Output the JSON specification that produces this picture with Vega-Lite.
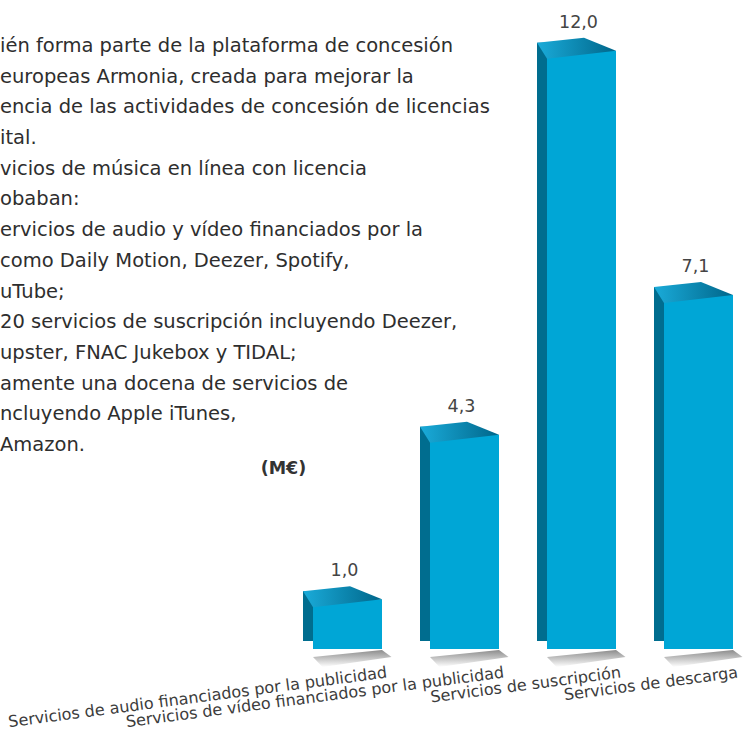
{
  "$schema": "https://vega.github.io/schema/vega-lite/v6.json",
  "width": 744,
  "height": 657,
  "autosize": {"type": "none"},
  "padding": {"left": 0, "top": 0, "right": 0, "bottom": 74},
  "background": "#ffffff",
  "config": {
    "view": {"stroke": null},
    "font": "DejaVu Sans",
    "locale": {"number": {"decimal": ",", "thousands": ".", "grouping": [3], "currency": ["", "\u00a0€"]}}
  },
  "datasets": {
    "servicios": [
      {"servicio": "Servicios de audio financiados por la publicidad", "ingresos": 1.0},
      {"servicio": "Servicios de vídeo financiados por la publicidad", "ingresos": 4.3},
      {"servicio": "Servicios de suscripción", "ingresos": 12.0},
      {"servicio": "Servicios de descarga", "ingresos": 7.1}
    ],
    "texto": [
      {"linea": 1, "texto": "ién forma parte de la plataforma de concesión"},
      {"linea": 2, "texto": "europeas Armonia, creada para mejorar la"},
      {"linea": 3, "texto": "encia de las actividades de concesión de licencias"},
      {"linea": 4, "texto": "ital."},
      {"linea": 5, "texto": "vicios de música en línea con licencia"},
      {"linea": 6, "texto": "obaban:"},
      {"linea": 7, "texto": "ervicios de audio y vídeo financiados por la"},
      {"linea": 8, "texto": "\u00a0como Daily Motion, Deezer, Spotify,"},
      {"linea": 9, "texto": "uTube;"},
      {"linea": 10, "texto": "20 servicios de suscripción incluyendo Deezer,"},
      {"linea": 11, "texto": "upster, FNAC Jukebox y TIDAL;"},
      {"linea": 12, "texto": "amente una docena de servicios de"},
      {"linea": 13, "texto": "ncluyendo Apple iTunes,"},
      {"linea": 14, "texto": "Amazon."}
    ]
  },
  "layer": [
    {
      "data": {"name": "servicios"},
      "encoding": {
        "x": {
          "field": "servicio",
          "type": "nominal",
          "sort": null,
          "scale": {"range": [318.25, 727.75], "paddingInner": 0.5, "paddingOuter": 0},
          "axis": {
            "title": null,
            "domain": false,
            "ticks": false,
            "tickSize": 0,
            "labelAngle": -7.5,
            "labelAlign": "right",
            "labelBaseline": "alphabetic",
            "labelOffset": 40,
            "labelPadding": 20,
            "labelFont": "DejaVu Sans",
            "labelFontSize": 16,
            "labelColor": "#3c3c3c",
            "labelLimit": 0,
            "labelOverlap": false
          }
        },
        "y": {
          "field": "ingresos",
          "type": "quantitative",
          "scale": {"domain": [0, 13.18], "nice": false, "zero": true},
          "axis": {
            "orient": "left",
            "domain": false,
            "ticks": false,
            "labels": false,
            "grid": false,
            "title": "(M€)",
            "titleAngle": 0,
            "titleX": 283,
            "titleY": 473,
            "titleAlign": "center",
            "titleBaseline": "alphabetic",
            "titleFont": "DejaVu Sans",
            "titleFontWeight": "bold",
            "titleFontSize": 17.5,
            "titleColor": "#333333"
          }
        }
      },
      "layer": [
        {
          "mark": {"type": "bar", "size": 10, "xOffset": -39.5, "yOffset": -16, "y2Offset": -10, "color": "#006d8f"}
        },
        {
          "mark": {"type": "bar", "size": 69, "yOffset": -8, "color": "#00a6d6"}
        },
        {
          "mark": {
            "type": "point",
            "shape": "M -34.5 0 L 34.5 -7 L 44 0 L -25 10 Z",
            "size": 4,
            "filled": true,
            "opacity": 1,
            "strokeWidth": 0,
            "fill": {"gradient": "linear", "x1": 0, "y1": 0, "x2": 0, "y2": 1, "stops": [{"offset": 0, "color": "#8c8c8c"}, {"offset": 0.35, "color": "#b4b4b4"}, {"offset": 1, "color": "#ffffff"}]}
          },
          "encoding": {"y": {"datum": 0}}
        },
        {
          "mark": {
            "type": "point",
            "shape": "M -34.5 0 L -44.5 -16 L 2.5 -21 L 34.5 -8 Z",
            "size": 4,
            "filled": true,
            "opacity": 1,
            "strokeWidth": 0,
            "fill": {"gradient": "linear", "x1": 0, "y1": 0, "x2": 1, "y2": 0, "stops": [{"offset": 0, "color": "#1aabd9"}, {"offset": 1, "color": "#00668a"}]}
          }
        },
        {
          "mark": {"type": "text", "dy": -31, "dx": -3, "baseline": "alphabetic", "font": "DejaVu Sans", "fontSize": 17.5, "color": "#444444"},
          "encoding": {"text": {"field": "ingresos", "type": "quantitative", "format": ".1f"}}
        }
      ]
    },
    {
      "data": {"name": "texto"},
      "mark": {"type": "text", "align": "left", "baseline": "alphabetic", "font": "DejaVu Sans", "fontSize": 19.5, "color": "#2e2e2e"},
      "encoding": {
        "x": {"datum": 0, "type": "quantitative", "scale": {"domain": [0, 1]}, "axis": null},
        "y": {"field": "linea", "type": "quantitative", "scale": {"domain": [-0.694, 20.713], "nice": false, "zero": false, "reverse": true}, "axis": null},
        "text": {"field": "texto"}
      }
    }
  ],
  "resolve": {"scale": {"x": "independent", "y": "independent"}}
}
